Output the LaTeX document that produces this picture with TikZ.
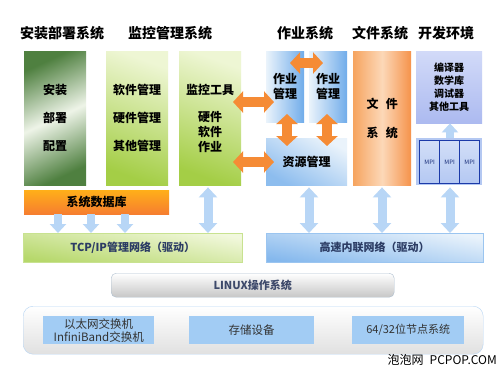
\documentclass[tikz,border=0pt]{standalone}
\usepackage{fontspec}
\setmainfont{Noto Sans CJK SC}
\usetikzlibrary{arrows.meta,calc}
\definecolor{gdark}{HTML}{4F8040}
\definecolor{glight}{HTML}{EEF4E8}
\definecolor{ygtop}{HTML}{EEF6D4}
\definecolor{ygbot}{HTML}{A4CE46}
\definecolor{bllight}{HTML}{EAF3FB}
\definecolor{bldark}{HTML}{70ACEA}
\definecolor{oredge}{HTML}{F59A4E}
\definecolor{orlight}{HTML}{FCD8B8}
\definecolor{lavtop}{HTML}{D2DAF8}
\definecolor{lavbot}{HTML}{ACBAF0}
\definecolor{mpibg}{HTML}{B4C8F2}
\definecolor{mpiline}{HTML}{1C3AA8}
\definecolor{arrorange}{HTML}{F58B35}
\definecolor{arrblue}{HTML}{B8D6F6}
\definecolor{txtblue}{HTML}{2C3C64}
\definecolor{innerblue}{HTML}{A2CCF4}
\tikzset{
  box/.style={rectangle, inner sep=0pt, anchor=north west, align=center, text=black},
  title/.style={font=\fontsize{14}{16}\selectfont\bfseries},
  oarrow/.style={draw=arrorange, line width=10pt,
    {Triangle[width=21pt,length=10pt]}-{Triangle[width=21pt,length=10pt]}},
  barrow/.style={draw=arrblue, line width=9pt,
    {Triangle[width=18pt,length=10pt]}-{Triangle[width=18pt,length=10pt]}},
  bdown/.style={draw=arrblue, line width=8pt, -{Triangle[width=16pt,length=9pt]}},
}
\begin{document}
\begin{tikzpicture}[x=1pt,y=-1pt]
\useasboundingbox (0,0) rectangle (500,370);
\fill[white] (0,0) rectangle (500,370);
% titles
\node[title] (t1) at (62,33) {安装部署系统};
\node[title] (t2) at (170,33) {监控管理系统};
\node[title] (t3) at (305,33) {作业系统};
\node[title] (t4) at (380,33) {文件系统};
\node[title] (t5) at (446,33) {开发环境};
% columns
\node[box, minimum width=62pt, minimum height=134pt,
  top color=gdark, bottom color=gdark, middle color=glight, shading angle=25,
  font=\fontsize{12}{28}\selectfont\bfseries] (az) at (24,51) {安装\\部署\\配置};
\node[box, minimum width=62pt, minimum height=134pt,
  top color=ygtop, bottom color=ygbot, shading angle=-20,
  font=\fontsize{12}{28}\selectfont\bfseries] (rj) at (106,51) {软件管理\\硬件管理\\其他管理};
\node[box, minimum width=62pt, minimum height=134pt,
  top color=ygtop, bottom color=ygbot, shading angle=-20,
  font=\fontsize{12}{15}\selectfont\bfseries] (jk) at (179,51) {监控工具\\[12pt]硬件\\软件\\作业};
\node[box, minimum width=38pt, minimum height=71pt,
  left color=bllight, right color=bldark,
  font=\fontsize{12}{15}\selectfont\bfseries] (zy1) at (266,51) {作业\\管理};
\node[box, minimum width=38pt, minimum height=71pt,
  left color=bllight, right color=bldark,
  font=\fontsize{12}{15}\selectfont\bfseries] (zy2) at (309,51) {作业\\管理};
\node[box, minimum width=81pt, minimum height=47pt,
  top color=bllight, bottom color=bldark!80, shading angle=-30,
  font=\fontsize{12}{15}\selectfont\bfseries] (zygl) at (266,138) {资源管理};
\node[box, minimum width=58pt, minimum height=134pt,
  left color=oredge!90!white, right color=oredge!95!red, middle color=orlight,
  font=\fontsize{12}{29}\selectfont\bfseries] (wj) at (353,51) {文\hspace{0.6em}件\\系\hspace{0.6em}统};
\node[box, minimum width=66pt, minimum height=72pt,
  top color=lavtop, bottom color=lavbot,
  font=\fontsize{10}{12.7}\selectfont\bfseries] (kf) at (416,51) {编译器\\数学库\\调试器\\其他工具};
\node[box, minimum width=66pt, minimum height=47pt, fill=mpibg] (mpi) at (416,138) {};
\foreach \i/\xx in {1/419,2/439,3/459}{
  \node[box, minimum width=20pt, minimum height=43pt, top color=mpibg!60, bottom color=mpibg,
    draw=mpiline, line width=1.3pt, font=\fontsize{6}{7}\selectfont, text=mpiline!70!black]
    (m\i) at (\xx,140) {MPI};
}
% bottom layers
\node[box, minimum width=145pt, minimum height=24pt,
  top color=orange!70!yellow!90!white, bottom color=arrorange!90!red,
  font=\fontsize{12}{14}\selectfont\bfseries] (db) at (24,190) {系统数据库};
\node[box, minimum width=219pt, minimum height=29pt,
  top color=ygtop!80!white, bottom color=ygbot!80!white, shading angle=-10,
  draw=ygbot!60!white, text=txtblue,
  font=\fontsize{11}{13}\selectfont\bfseries] (tcp) at (23,233) {TCP/IP管理网络（驱动）};
\node[box, minimum width=217pt, minimum height=29pt,
  top color=bllight, bottom color=bldark!85, shading angle=-10,
  draw=bldark!70, text=txtblue,
  font=\fontsize{11}{13}\selectfont\bfseries] (gs) at (266,233) {高速内联网络（驱动）};
\node[box, minimum width=283pt, minimum height=24pt, rounded corners=5pt,
  top color=white, bottom color=black!22, draw=bldark!45!gray!60, text=txtblue!80!gray,
  font=\fontsize{11}{13}\selectfont\bfseries] (linux) at (111,273) {LINUX操作系统};
\node[box, minimum width=460pt, minimum height=48pt, rounded corners=10pt,
  top color=white, bottom color=black!12, draw=bldark!50] (hw) at (23,306) {};
\node[box, minimum width=111pt, minimum height=28pt, fill=innerblue, text=black!80,
  font=\fontsize{11.5}{13}\selectfont] (eth) at (43,316) {以太网交换机\\InfiniBand交换机};
\node[box, minimum width=125pt, minimum height=28pt, fill=innerblue, text=black!80,
  font=\fontsize{11.5}{13}\selectfont] (st) at (189,316) {存储设备};
\node[box, minimum width=112pt, minimum height=28pt, fill=innerblue, text=black!80,
  font=\fontsize{11}{13}\selectfont] (nd) at (352,316) {64/32位节点系统};
\node[font=\fontsize{12}{14}\selectfont, anchor=east, inner sep=0pt] (wm) at (497,360) {泡泡网\hspace{0.5em}PCPOP.COM};
% orange arrows
\coordinate (oa1) at (233,102); \coordinate (ob1) at (274,102);
\coordinate (oa2) at (233,162); \coordinate (ob2) at (274,162);
\coordinate (oc1) at (290,63);  \coordinate (od1) at (323,63);
\coordinate (ov1a) at (287,114); \coordinate (ov1b) at (287,146);
\coordinate (ov2a) at (327,114); \coordinate (ov2b) at (327,146);
\draw[oarrow] (oa1) -- (ob1);
\draw[oarrow] (oa2) -- (ob2);
\draw[oarrow] (oc1) -- (od1);
\draw[oarrow] (ov1a) -- (ov1b);
\draw[oarrow] (ov2a) -- (ov2b);
% blue arrows
\foreach \xx in {58,91,125}{
  \draw[bdown] (db.south -| \xx,0) -- (tcp.north -| \xx,0);
}
\draw[barrow] (jk.south -| 208,0) ++(0,2) -- (tcp.north -| 208,0);
\draw[barrow] (zygl.south -| 309,0) ++(0,2) -- (gs.north -| 309,0);
\draw[barrow] (wj.south -| 382,0) ++(0,2) -- (gs.north -| 382,0);
\draw[barrow] (mpi.south -| 450,0) ++(0,2) -- (gs.north -| 450,0);
\draw[bdown] (mpi.north -| 450,0) -- (kf.south -| 450,0);
\end{tikzpicture}
\end{document}
